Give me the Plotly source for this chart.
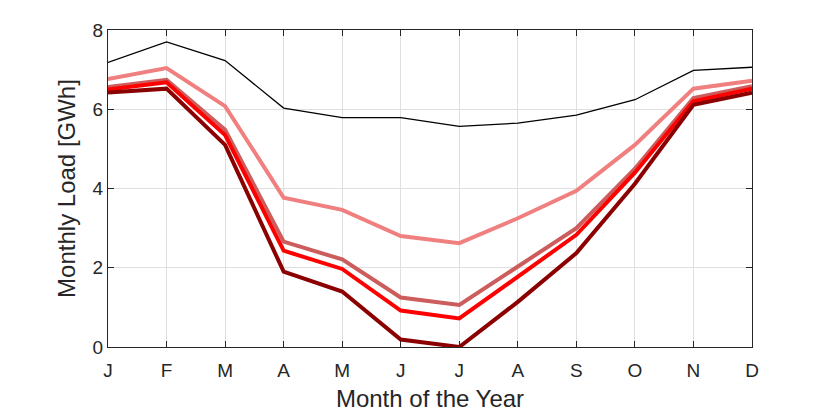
import plotly.graph_objects as go

months = ["J", "F", "M", "A", "M", "J", "J", "A", "S", "O", "N", "D"]
month_idx = list(range(1, 13))

# monthly load in GWh
load_base = [7.18, 7.70, 7.23, 6.03, 5.79, 5.79, 5.57, 5.65, 5.85, 6.24, 6.98, 7.06]
load_a = [6.76, 7.04, 6.08, 3.77, 3.46, 2.80, 2.62, 3.25, 3.94, 5.10, 6.52, 6.72]
load_b = [6.56, 6.74, 5.48, 2.66, 2.21, 1.25, 1.06, 2.02, 3.00, 4.50, 6.28, 6.58]
load_c = [6.50, 6.68, 5.35, 2.43, 1.97, 0.92, 0.72, 1.76, 2.83, 4.40, 6.20, 6.52]
load_d = [6.42, 6.52, 5.10, 1.90, 1.40, 0.19, 0.00, 1.14, 2.37, 4.12, 6.11, 6.42]

series = [
    (load_base, "#000000", 1.3),
    (load_a, "#F08080", 4),
    (load_b, "#CD5C5C", 4),
    (load_c, "#FF0000", 4),
    (load_d, "#8B0000", 4),
]

FONT = "Liberation Sans, Arial, Helvetica, sans-serif"
TXT = "#262626"

fig = go.Figure()
for vals, color, width in series:
    fig.add_trace(go.Scatter(
        x=month_idx, y=vals, mode="lines",
        line={"color": color, "width": width},
        cliponaxis=False,
    ))

axis_common = {
    "showline": True,
    "linecolor": "#262626",
    "linewidth": 1,
    "mirror": "ticks",
    "ticks": "inside",
    "ticklen": 6,
    "tickcolor": "#262626",
    "showgrid": True,
    "gridcolor": "#DFDFDF",
    "gridwidth": 1,
    "zeroline": False,
    "tickfont": {"family": FONT, "size": 19, "color": TXT},
}

# page body has an 8px margin, so margins are offset to land the plot box
fig.update_layout(
    width=830,
    height=415,
    margin={"l": 100, "r": 86, "t": 22, "b": 76},
    plot_bgcolor="white",
    paper_bgcolor="white",
    showlegend=False,
    xaxis={
        **axis_common,
        "range": [1, 12],
        "tickmode": "array",
        "tickvals": month_idx,
        "ticktext": months,
        "ticklabelstandoff": 6,
        "title": {"text": "Month of the Year", "standoff": 10,
                  "font": {"family": FONT, "size": 24, "color": TXT}},
    },
    yaxis={
        **axis_common,
        "range": [0, 8],
        "tickvals": [0, 2, 4, 6, 8],
        "title": {"text": "Monthly Load [GWh]", "standoff": 10,
                  "font": {"family": FONT, "size": 24, "color": TXT}},
    },
)

fig.write_html("out.html")
